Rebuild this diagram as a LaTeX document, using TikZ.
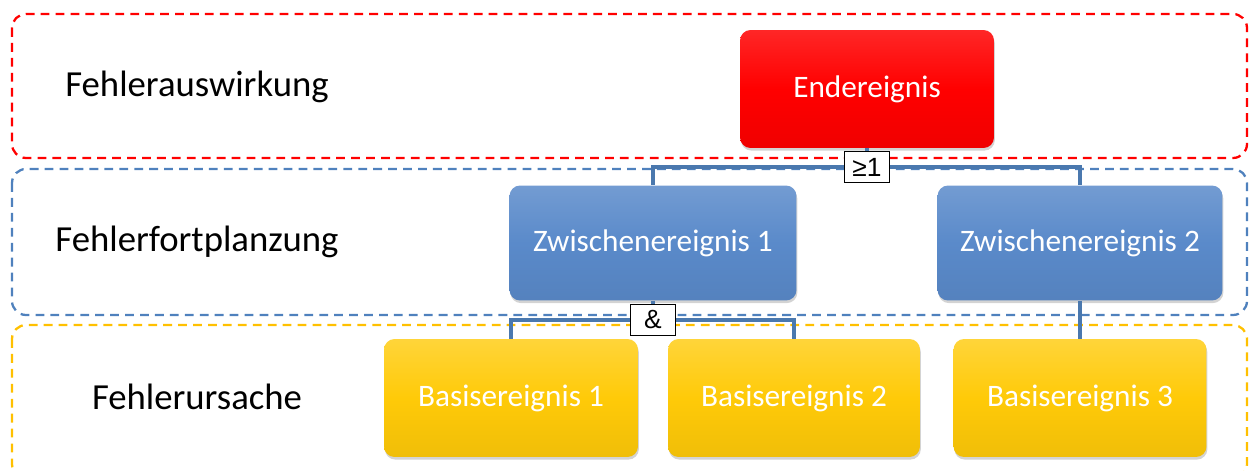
\documentclass[tikz,border=0pt]{standalone}
\usepackage{fontspec}
\setmainfont{Carlito}
\newfontfamily\gatefont{Liberation Sans}
\usetikzlibrary{shadows}

\definecolor{endred}{HTML}{FF0000}
\definecolor{zwblue}{HTML}{5A8ACA}
\definecolor{basisyellow}{HTML}{FFCA08}
\definecolor{bandblue}{HTML}{4F81BD}
\definecolor{bandorange}{HTML}{FFC000}
\definecolor{linkblue}{HTML}{4A78AE}

\begin{document}
\begin{tikzpicture}[x=0.02cm, y=-0.02cm]
	\tikzstyle{band} = [rounded corners=8pt, line width=1.3pt, dash pattern=on 5pt off 3.5pt]
	\tikzstyle{level} = [font=\fontsize{20.9}{25}\selectfont, text=black]
	\tikzstyle{event} = [rectangle, rounded corners=6pt, draw=none, text=white, font=\fontsize{17.8}{21}\selectfont, minimum height=2.36cm, drop shadow={shadow xshift=0.5pt, shadow yshift=-1.5pt, opacity=0.35}]
	\tikzstyle{gate} = [rectangle, draw=black, fill=white, line width=0.6pt, font=\gatefont\fontsize{15}{17}\selectfont, minimum width=0.9cm, minimum height=0.62cm, inner sep=0pt]
	\tikzstyle{link} = [draw=linkblue, line width=2.2pt]
	\useasboundingbox (0,0) rectangle (1250,470);
	% dashed level bands
	\draw[band, draw=endred] (12,14) rectangle (1247,158);
	\draw[band, draw=bandblue] (12,169) rectangle (1247,315);
	\draw[band, draw=bandorange] (12,325) rectangle (1247,478);
	\node[level](auswirkung) at (197,87){Fehlerauswirkung};
	\node[level](fortpflanzung) at (197,242){Fehlerfortplanzung};
	\node[level](ursache) at (197,397){Fehlerursache};
	% events
	\node[event, top color=endred!85!white, bottom color=endred!94!black, middle color=endred, minimum width=5.08cm](ende) at (867,89){Endereignis};
	\node[event, top color=zwblue!85!white, bottom color=zwblue!94!black, middle color=zwblue, minimum width=5.74cm, minimum height=2.3cm](zw1) at (653,243){Zwischenereignis 1};
	\node[event, top color=zwblue!85!white, bottom color=zwblue!94!black, middle color=zwblue, minimum width=5.7cm, minimum height=2.3cm](zw2) at (1080,243){Zwischenereignis 2};
	\node[event, top color=basisyellow!80!white, bottom color=basisyellow!94!black, middle color=basisyellow, minimum width=5.08cm](basis1) at (511,398){Basisereignis 1};
	\node[event, top color=basisyellow!80!white, bottom color=basisyellow!94!black, middle color=basisyellow, minimum width=5.04cm](basis2) at (794,398){Basisereignis 2};
	\node[event, top color=basisyellow!80!white, bottom color=basisyellow!94!black, middle color=basisyellow, minimum width=5.06cm](basis3) at (1080,398){Basisereignis 3};
	% gates
	\node[gate](oder) at (867,167){≥1};
	\node[gate](und) at (653,320){\&};
	\draw[link] (ende) -- (oder);
	\draw[link] (oder.west) -| (zw1.north);
	\draw[link] (oder.east) -| (zw2.north);
	\draw[link] (zw1) -- (und);
	\draw[link] (und.west) -| (basis1.north);
	\draw[link] (und.east) -| (basis2.north);
	\draw[link] (zw2) -- (basis3);
\end{tikzpicture}
\end{document}
